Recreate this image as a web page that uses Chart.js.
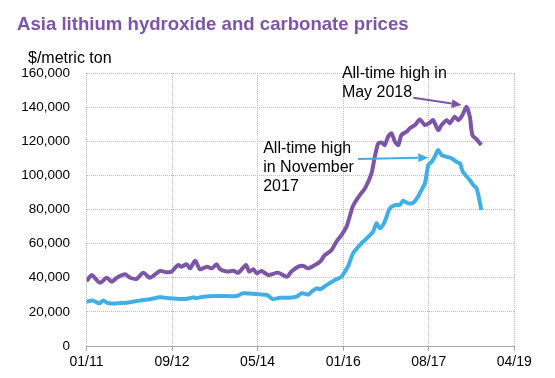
<!DOCTYPE html>
<html>
<head>
<meta charset="utf-8">
<script src="https://cdn.jsdelivr.net/npm/chart.js@4"></script>
<style>
  html, body { margin: 0; padding: 0; background: #fff; }
  #wrap { width: 555px; height: 378px; position: relative; }
</style>
</head>
<body>
<div id="wrap"><canvas id="c" width="555" height="378"></canvas></div>
<script>
// Months since January 2011
const hydroxideMonths = [0, 1.2, 2.0, 3.2, 4.7, 5.9, 7.1, 9.0, 10.2, 11.7, 13.3, 14.8, 17.2, 18.7, 19.9, 21.4, 22.2, 23.4, 24.2, 25.4, 26.5, 28.1, 29.3, 30.4, 31.2, 32.8, 34.3, 35.5, 37.3, 38.0, 39.0, 39.8, 40.9, 42.5, 44.8, 46.8, 47.9, 49.5, 50.7, 51.8, 53.4, 54.6, 55.7, 57.2, 58.5, 59.6, 60.8, 62.3, 63.9, 65.1, 66.6, 67.4, 68.2, 69.0, 69.7, 70.5, 71.3, 72.1, 72.9, 73.6, 74.8, 75.6, 76.8, 77.9, 79.1, 80.3, 81.0, 82.2, 83.0, 84.2, 84.9, 86.1, 86.9, 87.9, 88.8, 89.6, 90.2, 91.2, 92.3];
const hydroxideValues = [38000, 41600, 39700, 37000, 40000, 37700, 40000, 42000, 40000, 39300, 43000, 40000, 44000, 43200, 43600, 47500, 46500, 47900, 45500, 50000, 45000, 46500, 45500, 47900, 45000, 43600, 44100, 43000, 47500, 43600, 45000, 42600, 44000, 41600, 43000, 40600, 43600, 46500, 46900, 45500, 47500, 49400, 53300, 56000, 61500, 65000, 70000, 82000, 88500, 92400, 101000, 111000, 118800, 119200, 117800, 122700, 124600, 119700, 117800, 123600, 125600, 127600, 129500, 132800, 129500, 131000, 132400, 126600, 129500, 132400, 130500, 134400, 132400, 135400, 140200, 134400, 123600, 121100, 117800];
const carbonateMonths = [0, 1.5, 3.0, 3.9, 5.1, 9.4, 12.5, 14.8, 17.2, 19.5, 23.0, 25.0, 25.7, 27.3, 30.4, 35.1, 36.6, 40.5, 42.1, 43.6, 45.2, 47.5, 49.1, 50.3, 51.8, 52.6, 53.8, 54.6, 56.1, 58.1, 59.6, 60.4, 61.2, 62.3, 63.9, 65.5, 67.0, 67.8, 68.6, 69.7, 70.9, 72.1, 73.2, 74.0, 75.2, 76.4, 77.5, 78.3, 79.1, 79.9, 80.7, 81.4, 82.2, 83.0, 84.2, 85.3, 86.5, 87.3, 88.0, 89.6, 90.4, 91.2, 92.3];
const carbonateValues = [26000, 26600, 25000, 26600, 25000, 25400, 26600, 27400, 28500, 28000, 27500, 28500, 28000, 28900, 29300, 29300, 30900, 30300, 29900, 27500, 28300, 28300, 28900, 30900, 30100, 31800, 33800, 33200, 35700, 38700, 40600, 43600, 47000, 54300, 59200, 63100, 67000, 71900, 69000, 72800, 80700, 82600, 82600, 85100, 83600, 84000, 87500, 91400, 95300, 106000, 108000, 110900, 114900, 111900, 110900, 110000, 108000, 107000, 102000, 97300, 94300, 92400, 79700];
const xTickLabels = ['01/11', '09/12', '05/14', '01/16', '08/17', '04/19'];

const PURPLE = '#7D55A8';
const BLUE = '#41AEE6';
const FONT = '"Liberation Sans", Arial, sans-serif';

const toPoints = (xs, ys) => xs.map((x, i) => ({x: x, y: ys[i]}));

// annotation anchors in data units (month, value)
const annotations = [
  {color: PURPLE, lines: ['All-time high in', 'May 2018'], textAt: [59.7, 157100], lineStep: 11100,
   arrowFrom: [76.4, 145500], arrowTo: [87.7, 141200]},
  {color: BLUE, lines: ['All-time high', 'in November', '2017'], textAt: [41.3, 113100], lineStep: 11150,
   arrowFrom: [63.5, 109600], arrowTo: [79.9, 110400]}
];

const overlay = {
  id: 'overlay',
  afterDraw(chart) {
    const ctx = chart.ctx;
    const xs = chart.scales.x, ys = chart.scales.y;
    ctx.save();
    ctx.textBaseline = 'alphabetic';
    ctx.textAlign = 'left';
    ctx.fillStyle = PURPLE;
    ctx.font = 'bold 18.6px ' + FONT;
    ctx.fillText('Asia lithium hydroxide and carbonate prices', 17, 29.5);
    ctx.fillStyle = '#000';
    ctx.font = '16px ' + FONT;
    ctx.fillText('$/metric ton', 28, 63);
    annotations.forEach(a => {
      ctx.fillStyle = '#000';
      ctx.font = '16px ' + FONT;
      a.lines.forEach((t, i) => {
        ctx.fillText(t, xs.getPixelForValue(a.textAt[0]), ys.getPixelForValue(a.textAt[1] - i * a.lineStep));
      });
      const x1 = xs.getPixelForValue(a.arrowFrom[0]), y1 = ys.getPixelForValue(a.arrowFrom[1]);
      const x2 = xs.getPixelForValue(a.arrowTo[0]), y2 = ys.getPixelForValue(a.arrowTo[1]);
      const ang = Math.atan2(y2 - y1, x2 - x1);
      const hl = 10, hw = 4.5;
      const bx = x2 - hl * Math.cos(ang), by = y2 - hl * Math.sin(ang);
      ctx.strokeStyle = a.color;
      ctx.lineWidth = 2;
      ctx.beginPath();
      ctx.moveTo(x1, y1);
      ctx.lineTo(bx, by);
      ctx.stroke();
      ctx.fillStyle = a.color;
      ctx.beginPath();
      ctx.moveTo(x2, y2);
      ctx.lineTo(bx + hw * Math.sin(ang), by - hw * Math.cos(ang));
      ctx.lineTo(bx - hw * Math.sin(ang), by + hw * Math.cos(ang));
      ctx.closePath();
      ctx.fill();
    });
    ctx.restore();
  }
};

new Chart(document.getElementById('c'), {
  type: 'line',
  data: {
    datasets: [
      {label: 'Hydroxide', data: toPoints(hydroxideMonths, hydroxideValues), borderColor: PURPLE, borderWidth: 4, pointRadius: 0, tension: 0.25, fill: false},
      {label: 'Carbonate', data: toPoints(carbonateMonths, carbonateValues), borderColor: BLUE, borderWidth: 4, pointRadius: 0, tension: 0.25, fill: false}
    ]
  },
  options: {
    responsive: false,
    animation: false,
    layout: {padding: {left: 0, right: 40.7, top: 73, bottom: 0}},
    plugins: {legend: {display: false}, tooltip: {enabled: false}, title: {display: false}},
    scales: {
      x: {
        type: 'linear', min: 0, max: 100,
        afterFit: s => { s.height = 32; },
        afterBuildTicks: s => { s.ticks = xTickLabels.map((l, i) => ({value: i * 20})); },
        ticks: {
          autoSkip: false, maxRotation: 0, padding: 3,
          color: '#000', font: {family: FONT, size: 14},
          callback: (v, i) => xTickLabels[i]
        },
        grid: {color: '#bdbdbd', lineWidth: 1, drawTicks: true, tickLength: 5, tickColor: '#a6a6a6', tickBorderDash: []},
        border: {display: true, color: '#a6a6a6', width: 1, dash: [1, 1]}
      },
      y: {
        min: 0, max: 160000,
        afterFit: s => { s.width = 86.5; },
        ticks: {stepSize: 20000, padding: 16.5, color: '#000', font: {family: FONT, size: 13.5}},
        grid: {color: '#bdbdbd', lineWidth: 1, drawTicks: false},
        border: {display: false, dash: [1, 1]}
      }
    }
  },
  plugins: [overlay]
});
</script>
</body>
</html>
